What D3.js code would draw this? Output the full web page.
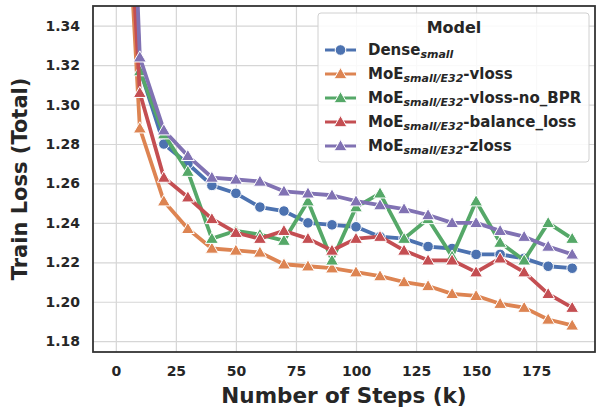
<!DOCTYPE html>
<html>
<head>
<meta charset="utf-8">
<script src="https://cdn.jsdelivr.net/npm/d3@7"></script>
<style>
  body { margin: 0; background: #fff; }
  svg { font-family: "DejaVu Sans", sans-serif; }
</style>
</head>
<body>
<svg id="chart" width="597" height="412"></svg>
<script>
// steps in thousands
var steps = [0, 10, 20, 30, 40, 50, 60, 70, 80, 90, 100, 110, 120, 130, 140, 150, 160, 170, 180, 190];

var denseSmall = [1.58, 1.318, 1.280, 1.270, 1.259, 1.255, 1.248, 1.246, 1.240, 1.239, 1.238, 1.233, 1.232, 1.228, 1.227, 1.224, 1.224, 1.222, 1.218, 1.217];
var moeVloss = [1.51, 1.288, 1.251, 1.237, 1.227, 1.226, 1.225, 1.219, 1.218, 1.217, 1.215, 1.213, 1.210, 1.208, 1.204, 1.203, 1.199, 1.197, 1.191, 1.188];
var moeVlossNoBpr = [1.57, 1.317, 1.285, 1.266, 1.232, 1.236, 1.234, 1.231, 1.251, 1.221, 1.248, 1.255, 1.232, 1.242, 1.223, 1.251, 1.230, 1.221, 1.240, 1.232];
var moeBalance = [1.52, 1.306, 1.263, 1.253, 1.242, 1.235, 1.232, 1.236, 1.232, 1.226, 1.232, 1.233, 1.226, 1.221, 1.221, 1.215, 1.222, 1.215, 1.204, 1.197];
var moeZloss = [1.63, 1.324, 1.287, 1.274, 1.263, 1.262, 1.261, 1.256, 1.255, 1.254, 1.251, 1.249, 1.247, 1.244, 1.240, 1.240, 1.236, 1.233, 1.228, 1.224];

var xTicks = [0, 25, 50, 75, 100, 125, 150, 175];
var yTicks = [1.18, 1.20, 1.22, 1.24, 1.26, 1.28, 1.30, 1.32, 1.34];

var series = [
  {base: "Dense", sub: "small", rest: "", values: denseSmall, color: "#4c72b0", marker: "circle"},
  {base: "MoE", sub: "small/E32", rest: "-vloss", values: moeVloss, color: "#dd8452", marker: "triangle"},
  {base: "MoE", sub: "small/E32", rest: "-vloss-no_BPR", values: moeVlossNoBpr, color: "#55a868", marker: "triangle"},
  {base: "MoE", sub: "small/E32", rest: "-balance_loss", values: moeBalance, color: "#c44e52", marker: "triangle"},
  {base: "MoE", sub: "small/E32", rest: "-zloss", values: moeZloss, color: "#8172b3", marker: "triangle"}
];

var svg = d3.select("#chart");
var pLeft = 93, pRight = 595, pTop = 6, pBottom = 352;

var x = d3.scaleLinear().domain([-9.5, 199.5]).range([pLeft, pRight]);
var y = d3.scaleLinear().domain([1.1745, 1.35]).range([pBottom, pTop]);

// grid
svg.append("g")
  .attr("transform", "translate(0," + pBottom + ")")
  .call(d3.axisBottom(x).tickValues(xTicks).tickSize(-(pBottom - pTop)).tickFormat(""))
  .call(function(g){
    g.select(".domain").remove();
    g.selectAll("line").attr("stroke", "#d6d6d6").attr("stroke-width", 1.2);
  });
svg.append("g")
  .attr("transform", "translate(" + pLeft + ",0)")
  .call(d3.axisLeft(y).tickValues(yTicks).tickSize(-(pRight - pLeft)).tickFormat(""))
  .call(function(g){
    g.select(".domain").remove();
    g.selectAll("line").attr("stroke", "#d6d6d6").attr("stroke-width", 1.2);
  });

// tick labels
var xAxis = svg.append("g")
  .attr("transform", "translate(0," + pBottom + ")")
  .call(d3.axisBottom(x).tickValues(xTicks).tickSize(0).tickPadding(14).tickFormat(d3.format("d")));
xAxis.select(".domain").remove();
xAxis.selectAll("text").attr("font-size", 14).attr("font-weight", "bold").attr("fill", "#262626")
  .attr("font-family", "DejaVu Sans");

var yAxis = svg.append("g")
  .attr("transform", "translate(" + pLeft + ",0)")
  .call(d3.axisLeft(y).tickValues(yTicks).tickSize(0).tickPadding(13).tickFormat(d3.format(".2f")));
yAxis.select(".domain").remove();
yAxis.selectAll("text").attr("font-size", 14).attr("font-weight", "bold").attr("fill", "#262626")
  .attr("font-family", "DejaVu Sans");

// clip
svg.append("clipPath").attr("id", "clip")
  .append("rect").attr("x", pLeft).attr("y", pTop).attr("width", pRight - pLeft).attr("height", pBottom - pTop);

var plot = svg.append("g").attr("clip-path", "url(#clip)");

var line = d3.line()
  .x(function(d, i){ return x(steps[i]); })
  .y(function(d){ return y(d); });

var triangle = d3.symbol().type(d3.symbolTriangle).size(72);

series.forEach(function(s){
  plot.append("path")
    .attr("d", line(s.values))
    .attr("fill", "none")
    .attr("stroke", s.color)
    .attr("stroke-width", 3.8)
    .attr("stroke-linejoin", "round");
  var pts = plot.selectAll(null).data(s.values).enter();
  if (s.marker == "circle") {
    pts.append("circle")
      .attr("cx", function(d, i){ return x(steps[i]); })
      .attr("cy", function(d){ return y(d); })
      .attr("r", 5.3)
      .attr("fill", s.color)
      .attr("stroke", "#fff")
      .attr("stroke-width", 1);
  } else {
    pts.append("path")
      .attr("d", triangle)
      .attr("transform", function(d, i){ return "translate(" + x(steps[i]) + "," + (y(d) + 1) + ")"; })
      .attr("fill", s.color)
      .attr("stroke", "#fff")
      .attr("stroke-width", 1);
  }
});

// frame
svg.append("rect")
  .attr("x", pLeft).attr("y", pTop).attr("width", pRight - pLeft).attr("height", pBottom - pTop)
  .attr("fill", "none").attr("stroke", "#333").attr("stroke-width", 1.8);

// axis titles
svg.append("text")
  .attr("x", (pLeft + pRight) / 2).attr("y", 403)
  .attr("text-anchor", "middle")
  .attr("font-size", 21.5).attr("font-weight", "bold").attr("fill", "#262626")
  .text("Number of Steps (k)");
svg.append("text")
  .attr("transform", "translate(27," + ((pTop + pBottom) / 2) + ") rotate(-90)")
  .attr("text-anchor", "middle")
  .attr("font-size", 21).attr("font-weight", "bold").attr("fill", "#262626")
  .text("Train Loss (Total)");

// legend
var legend = svg.append("g");
legend.append("rect")
  .attr("x", 318).attr("y", 13).attr("width", 271).attr("height", 149)
  .attr("rx", 3)
  .attr("fill", "#fff").attr("fill-opacity", 0.85)
  .attr("stroke", "#d0d0d0").attr("stroke-width", 1);
legend.append("text")
  .attr("x", 454).attr("y", 33)
  .attr("text-anchor", "middle")
  .attr("font-size", 16).attr("font-weight", "bold").attr("fill", "#262626")
  .text("Model");

series.forEach(function(s, i){
  var cy = 50 + i * 24;
  legend.append("line")
    .attr("x1", 325).attr("x2", 356).attr("y1", cy).attr("y2", cy)
    .attr("stroke", s.color).attr("stroke-width", 3);
  if (s.marker == "circle") {
    legend.append("circle").attr("cx", 340.5).attr("cy", cy).attr("r", 5.3)
      .attr("fill", s.color).attr("stroke", "#fff").attr("stroke-width", 1);
  } else {
    legend.append("path").attr("d", triangle)
      .attr("transform", "translate(340.5," + (cy + 1) + ")")
      .attr("fill", s.color).attr("stroke", "#fff").attr("stroke-width", 1);
  }
  var t = legend.append("text")
    .attr("x", 368).attr("y", cy + 5)
    .attr("font-size", 15).attr("font-weight", "bold").attr("fill", "#262626");
  t.append("tspan").text(s.base);
  t.append("tspan").attr("font-size", 11).attr("font-style", "italic").attr("dy", 3).text(s.sub);
  if (s.rest) t.append("tspan").attr("dy", -3).text(s.rest);
});
</script>
</body>
</html>
